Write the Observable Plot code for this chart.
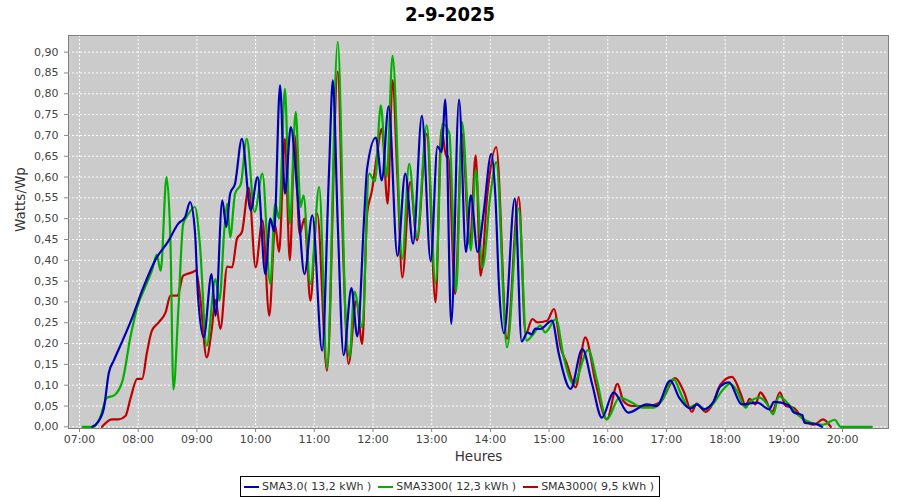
<!DOCTYPE html>
<html>
<head>
<meta charset="utf-8">
<script src="https://cdn.jsdelivr.net/npm/d3@7"></script>
<script src="https://cdn.jsdelivr.net/npm/@observablehq/plot@0.6"></script>
<style>
  html, body { margin: 0; padding: 0; background: #ffffff; }
  body { width: 900px; height: 500px; overflow: hidden; font-family: "DejaVu Sans", sans-serif; }
  #title { height: 28px; line-height: 28px; text-align: center; font-family: "DejaVu Sans Condensed", "DejaVu Sans", sans-serif; font-weight: bold; font-size: 20px; color: #000; }
  #chart { height: 442px; }
  #legendWrap { text-align: center; margin-top: 6px; line-height: 0; }
  #legend { display: inline-flex; align-items: center; border: 1px solid #000; height: 19px; padding: 0 5px 0 3px; font-size: 11px; line-height: 19px; color: #333; }
  .item { display: inline-flex; align-items: center; margin-right: 7px; }
  .item:last-child { margin-right: 0; }
  .sw { display: inline-block; width: 15px; height: 2px; margin-right: 3px; }
</style>
</head>
<body>
<div id="title">2-9-2025</div>
<div id="chart"></div>
<div id="legendWrap"><div id="legend"></div></div>
<script>
// ---- data (time, Watts/Wp) ----
const sma30 = [["07:13",0],["07:19",0.012],["07:25",0.046],["07:30",0.13],["07:35",0.159],["07:44",0.207],["07:54",0.263],["08:04",0.327],["08:19",0.407],["08:30",0.443],["08:41",0.488],["08:48",0.504],["08:53",0.54],["08:58",0.47],["09:01",0.32],["09:07",0.215],["09:15",0.367],["09:19",0.267],["09:26",0.544],["09:30",0.48],["09:34",0.56],["09:39",0.584],["09:46",0.692],["09:55",0.52],["10:02",0.60],["10:10",0.367],["10:15",0.50],["10:19",0.47],["10:25",0.82],["10:30",0.56],["10:36",0.72],["10:43",0.552],["10:50",0.367],["10:58",0.508],["11:08",0.183],["11:15",0.608],["11:19",0.832],["11:24",0.488],["11:30",0.172],["11:38",0.333],["11:44",0.217],["11:51",0.504],["11:54",0.62],["12:03",0.695],["12:09",0.592],["12:16",0.77],["12:25",0.41],["12:33",0.608],["12:41",0.44],["12:50",0.747],["12:59",0.398],["13:06",0.674],["13:10",0.66],["13:14",0.786],["13:20",0.247],["13:28",0.786],["13:35",0.42],["13:40",0.556],["13:47",0.42],["13:53",0.512],["14:01",0.656],["14:05",0.56],["14:09",0.33],["14:14",0.225],["14:25",0.548],["14:32",0.205],["14:38",0.227],["14:42",0.222],["14:46",0.236],["14:51",0.235],["15:03",0.255],["15:10",0.175],["15:22",0.091],["15:34",0.187],["15:44",0.103],["15:54",0.022],["16:06",0.083],["16:21",0.034],["16:40",0.054],["16:50",0.05],["17:04",0.111],["17:13",0.07],["17:25",0.044],["17:31",0.054],["17:38",0.042],["17:48",0.06],["17:55",0.097],["18:04",0.107],["18:17",0.054],["18:33",0.058],["18:45",0.042],["18:50",0.06],["19:05",0.052],["19:10",0.035],["19:19",0.028],["19:21",0.01],["19:34",0.006],["19:39",0]];

const sma3300 = [["07:03",0],["07:14",0],["07:21",0.022],["07:28",0.07],["07:35",0.075],["07:44",0.111],["07:52",0.215],["07:59",0.287],["08:07",0.335],["08:14",0.375],["08:19",0.413],["08:23",0.375],["08:29",0.60],["08:33",0.44],["08:36",0.09],["08:41",0.28],["08:46",0.488],["08:51",0.51],["08:58",0.528],["09:03",0.44],["09:10",0.195],["09:19",0.355],["09:23",0.303],["09:28",0.472],["09:31",0.536],["09:34",0.455],["09:39",0.56],["09:45",0.584],["09:51",0.692],["09:59",0.516],["10:07",0.608],["10:15",0.343],["10:20",0.536],["10:24",0.50],["10:30",0.812],["10:35",0.488],["10:41",0.756],["10:46",0.528],["10:49",0.556],["10:56",0.343],["11:05",0.576],["11:13",0.141],["11:24",0.925],["11:32",0.263],["11:36",0.167],["11:41",0.325],["11:49",0.239],["11:56",0.608],["12:02",0.59],["12:08",0.772],["12:14",0.60],["12:20",0.891],["12:30",0.404],["12:37",0.632],["12:45",0.455],["12:55",0.724],["13:04",0.345],["13:11",0.728],["13:18",0.706],["13:25",0.325],["13:31",0.732],["13:40",0.424],["13:45",0.616],["13:52",0.383],["14:00",0.556],["14:06",0.636],["14:17",0.191],["14:29",0.524],["14:37",0.207],["14:44",0.223],["14:51",0.243],["14:56",0.227],["15:07",0.259],["15:15",0.167],["15:25",0.103],["15:40",0.185],["15:49",0.111],["15:59",0.018],["16:12",0.07],["16:25",0.058],["16:35",0.046],["16:47",0.046],["16:57",0.07],["17:07",0.115],["17:16",0.073],["17:23",0.046],["17:31",0.054],["17:40",0.042],["17:48",0.056],["17:57",0.087],["18:05",0.103],["18:12",0.087],["18:21",0.046],["18:26",0.062],["18:35",0.07],["18:43",0.054],["18:49",0.03],["18:55",0.073],["19:05",0.054],["19:14",0.03],["19:22",0.016],["19:35",0.006],["19:40",0.005],["19:52",0.017],["19:58",0],["20:30",0]];

const sma3000 = [["07:23",0],["07:33",0.018],["07:40",0.018],["07:47",0.026],["07:52",0.067],["07:59",0.115],["08:04",0.115],["08:09",0.179],["08:14",0.231],["08:21",0.251],["08:28",0.275],["08:33",0.315],["08:40",0.315],["08:46",0.363],["08:55",0.371],["08:59",0.375],["09:03",0.319],["09:10",0.167],["09:15",0.231],["09:19",0.305],["09:24",0.235],["09:31",0.385],["09:36",0.383],["09:41",0.452],["09:46",0.468],["09:53",0.574],["10:00",0.383],["10:07",0.496],["10:14",0.267],["10:20",0.484],["10:24",0.42],["10:30",0.692],["10:35",0.40],["10:40",0.70],["10:45",0.463],["10:50",0.50],["10:56",0.303],["11:03",0.512],["11:13",0.135],["11:24",0.853],["11:30",0.383],["11:35",0.151],["11:43",0.303],["11:49",0.199],["11:54",0.512],["11:59",0.568],["12:04",0.652],["12:09",0.716],["12:15",0.536],["12:20",0.832],["12:25",0.60],["12:30",0.359],["12:38",0.588],["12:45",0.448],["12:55",0.704],["13:04",0.299],["13:10",0.716],["13:15",0.648],["13:17",0.65],["13:24",0.319],["13:31",0.704],["13:39",0.435],["13:45",0.652],["13:50",0.363],["13:57",0.56],["14:06",0.672],["14:17",0.211],["14:29",0.552],["14:36",0.223],["14:43",0.259],["14:48",0.251],["14:58",0.255],["15:05",0.283],["15:12",0.19],["15:18",0.153],["15:27",0.095],["15:37",0.215],["15:48",0.101],["15:59",0.018],["16:10",0.103],["16:16",0.062],["16:25",0.05],["16:40",0.05],["16:54",0.06],["17:09",0.117],["17:18",0.083],["17:26",0.036],["17:31",0.056],["17:40",0.036],["17:47",0.054],["17:55",0.101],["18:07",0.12],["18:16",0.079],["18:21",0.05],["18:25",0.067],["18:31",0.054],["18:36",0.083],["18:41",0.067],["18:48",0.036],["18:56",0.083],["19:02",0.05],["19:10",0.046],["19:19",0.02],["19:31",0.005],["19:40",0.018],["19:48",0]];

const seriesNames = ["SMA3.0( 13,2 kWh )", "SMA3300( 12,3 kWh )", "SMA3000( 9,5 kWh )"];
const seriesColors = ["#0000b4", "#00b000", "#c00000"];
const hourTicks = ["07:00","08:00","09:00","10:00","11:00","12:00","13:00","14:00","15:00","16:00","17:00","18:00","19:00","20:00"];
const yTicks = [0,0.05,0.10,0.15,0.20,0.25,0.30,0.35,0.40,0.45,0.50,0.55,0.60,0.65,0.70,0.75,0.80,0.85,0.90];
const xStart = "06:48:45", xEnd = "20:47:00";

// ---- helpers ----
function hm(s) {
  const p = s.split(":").map(Number);
  return new Date(Date.UTC(2025, 8, 2, p[0], p[1], p[2] || 0));
}
const toRows = (arr, name) => arr.map(([t, v]) => ({ series: name, time: hm(t), value: v }));
const rows = [toRows(sma30, seriesNames[0]), toRows(sma3300, seriesNames[1]), toRows(sma3000, seriesNames[2])];
const hourDates = hourTicks.map(hm);
const fmtY = d => d3.format(".2f")(d).replace(".", ",");

const chart = Plot.plot({
  width: 900,
  height: 442,
  marginTop: 7,
  marginBottom: 42,
  marginLeft: 68,
  marginRight: 12,
  style: { background: "#ffffff", fontFamily: "DejaVu Sans, sans-serif", fontSize: "11px", color: "#444" },
  x: { type: "utc", domain: [hm(xStart), hm(xEnd)] },
  y: { domain: [-0.004, 0.94] },
  marks: [
    Plot.frame({ fill: "#cbcbcb", stroke: null }),
    Plot.gridX(hourDates, { stroke: "#ffffff", strokeOpacity: 1, strokeDasharray: "2,2" }),
    Plot.gridY(yTicks, { stroke: "#ffffff", strokeOpacity: 1, strokeDasharray: "2,2" }),
    Plot.axisX(hourDates, { tickFormat: d3.utcFormat("%H:%M"), tickSize: 4, tickPadding: 3, label: null, stroke: "#888", fill: "#444" }),
    Plot.axisY(yTicks, { tickFormat: fmtY, tickSize: 4, tickPadding: 6, label: null, stroke: "#888", fill: "#444" }),
    Plot.line(rows[2], { x: "time", y: "value", stroke: seriesColors[2], strokeWidth: 2.2, curve: "monotone-x" }),
    Plot.line(rows[1], { x: "time", y: "value", stroke: seriesColors[1], strokeWidth: 2.2, curve: "monotone-x" }),
    Plot.line(rows[0], { x: "time", y: "value", stroke: seriesColors[0], strokeWidth: 2.2, curve: "monotone-x" }),
    Plot.frame({ stroke: "#808080" }),
    Plot.text(["Watts/Wp"], { text: d => d, frameAnchor: "left", dx: -48, rotate: -90, fontSize: 13.5, fill: "#333" }),
    Plot.text(["Heures"], { text: d => d, frameAnchor: "bottom", dy: 32, fontSize: 13.5, fill: "#333" })
  ]
});
document.getElementById("chart").appendChild(chart);

// legend
const legend = document.getElementById("legend");
seriesNames.forEach((n, i) => {
  const it = document.createElement("span");
  it.className = "item";
  const sw = document.createElement("span");
  sw.className = "sw";
  sw.style.background = seriesColors[i];
  const tx = document.createElement("span");
  tx.textContent = n;
  it.appendChild(sw);
  it.appendChild(tx);
  legend.appendChild(it);
});
</script>
</body>
</html>
